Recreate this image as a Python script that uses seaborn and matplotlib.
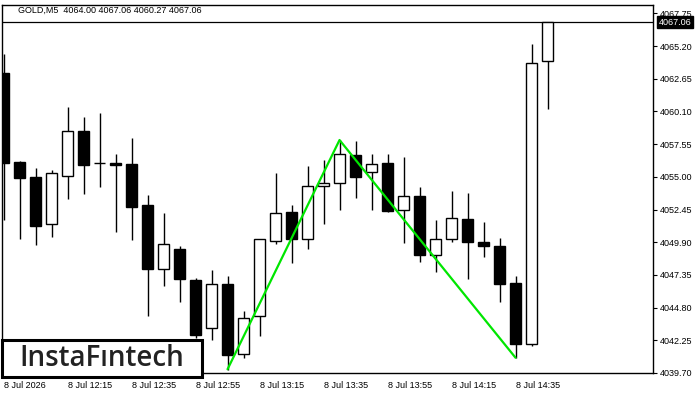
import matplotlib
matplotlib.use("Agg")
import matplotlib.pyplot as plt
import seaborn as sns
import pandas as pd
import numpy as np

# ---- data ----
times = ["11:55", "12:00", "12:05", "12:10", "12:15", "12:20", "12:25", "12:30",
         "12:35", "12:40", "12:45", "12:50", "12:55", "13:00", "13:05", "13:10",
         "13:15", "13:20", "13:25", "13:30", "13:35", "13:40", "13:45", "13:50",
         "13:55", "14:00", "14:05", "14:10", "14:15", "14:20", "14:25", "14:30",
         "14:35", "14:40", "14:45"]
opens = [4063.12, 4056.14, 4054.99, 4051.30, 4055.09, 4058.58, 4056.06, 4056.10,
         4056.00, 4052.80, 4047.84, 4049.35, 4046.95, 4043.19, 4046.62, 4041.16,
         4044.12, 4050.02, 4052.24, 4050.13, 4054.26, 4054.50, 4056.70, 4055.36,
         4056.06, 4052.39, 4053.48, 4048.88, 4050.13, 4051.71, 4049.92, 4049.61,
         4046.72, 4041.94, 4064.00]
highs = [4064.58, 4056.24, 4055.69, 4055.53, 4060.45, 4059.67, 4059.98, 4056.78,
         4058.03, 4053.58, 4052.18, 4049.61, 4047.09, 4047.73, 4047.27, 4044.54,
         4050.13, 4055.30, 4052.80, 4055.85, 4056.31, 4057.87, 4057.80, 4056.78,
         4056.78, 4056.55, 4054.21, 4051.63, 4053.90, 4053.74, 4051.48, 4050.23,
         4047.29, 4065.36, 4067.06]
lows = [4051.63, 4050.15, 4049.71, 4050.33, 4053.30, 4053.66, 4054.23, 4050.72,
        4050.07, 4044.15, 4046.49, 4045.26, 4042.43, 4042.27, 4039.93, 4040.85,
        4042.61, 4049.76, 4048.30, 4049.40, 4051.35, 4052.44, 4053.37, 4052.44,
        4052.28, 4049.86, 4048.38, 4047.60, 4049.94, 4047.06, 4048.77, 4045.26,
        4040.89, 4041.83, 4060.27]
closes = [4056.10, 4054.93, 4051.19, 4055.28, 4058.58, 4055.92, 4056.06, 4055.95,
          4052.67, 4047.84, 4049.76, 4047.06, 4042.64, 4046.62, 4041.08, 4043.97,
          4050.13, 4052.16, 4050.18, 4054.26, 4054.50, 4056.76, 4055.01, 4055.98,
          4052.36, 4053.48, 4048.93, 4050.15, 4051.77, 4049.94, 4049.63, 4046.67,
          4041.99, 4063.86, 4067.06]

pattern_idx = [14, 21, 32]
pattern_price = [4039.99, 4057.87, 4040.89]

y_ticks = [4039.70, 4042.25, 4044.80, 4047.35, 4049.90, 4052.45, 4055.00,
           4057.55, 4060.10, 4062.65, 4065.20, 4067.75]
x_tick_idx = [0, 4, 8, 12, 16, 20, 24, 28, 32]
x_tick_labels = ["8 Jul 2026", "8 Jul 12:15", "8 Jul 12:35", "8 Jul 12:55",
                 "8 Jul 13:15", "8 Jul 13:35", "8 Jul 13:55", "8 Jul 14:15",
                 "8 Jul 14:35"]
title = "GOLD,M5  4064.00 4067.06 4060.27 4067.06"
last_price = 4067.06

# ---- style ----
sns.set_style("white")
plt.rcParams["font.family"] = ["Liberation Sans", "DejaVu Sans"]

df = pd.DataFrame({"t": times, "o": opens, "h": highs, "l": lows, "c": closes})
df["i"] = np.arange(len(df))

fig = plt.figure(figsize=(7, 4), dpi=100)
ax = fig.add_axes([2 / 700, 27 / 400, 651 / 700, 368 / 400])

ymin, ymax = 4039.70, 4068.40
ax.set_xlim(-0.094, 40.59)
ax.set_ylim(ymin, ymax)

# wicks
ax.vlines(df["i"], df["l"], df["h"], color="black", linewidth=1.0, zorder=2)
# bodies
bw = 0.66
for _, r in df.iterrows():
    lo = min(r.o, r.c)
    hgt = abs(r.c - r.o)
    bull = r.c >= r.o
    if hgt < 0.03:
        ax.hlines(r.o, r.i - bw / 2, r.i + bw / 2, color="black", linewidth=1.0, zorder=3)
        continue
    ax.bar(r.i, hgt, bottom=lo, width=bw,
           color="white" if bull else "black", edgecolor="black",
           linewidth=1.0, zorder=3)

# last price line
ax.axhline(last_price, color="black", linewidth=0.9, zorder=1)

# pattern line
pat = pd.DataFrame({"i": pattern_idx, "p": pattern_price})
sns.lineplot(data=pat, x="i", y="p", ax=ax, color="#00e600", linewidth=1.6,
             zorder=5, sort=False, legend=False)
ax.set_xlabel("")
ax.set_ylabel("")

# axes / ticks
for s in ax.spines.values():
    s.set_color("black")
    s.set_linewidth(1.0)
ax.yaxis.tick_right()
ax.set_yticks(y_ticks)
ax.set_yticklabels([f"{v:.2f}" for v in y_ticks])
ax.set_xticks(x_tick_idx)
ax.set_xticklabels(x_tick_labels, ha="left")
ax.tick_params(axis="both", which="both", length=3, width=0.8, color="black",
               labelsize=6.5, labelcolor="black", direction="out", pad=2)
ax.tick_params(axis="x", pad=3)
ax.grid(False)

# title
fig.text(18 / 700, 1 - 10 / 400, title, fontsize=6.5, color="black",
         va="center", ha="left")

# last price box
ax.annotate(f"{last_price:.2f}", xy=(1.0, last_price),
            xycoords=("axes fraction", "data"), xytext=(4, 0),
            textcoords="offset points", fontsize=6.5, color="white",
            va="center", ha="left",
            bbox=dict(boxstyle="square,pad=0.15", fc="black", ec="black"),
            zorder=10, annotation_clip=False)

# logo box
from matplotlib.patches import Rectangle
rect = Rectangle((2 / 700, 1 - 377 / 400), 200 / 700, 37 / 400,
                 transform=fig.transFigure, facecolor="white",
                 edgecolor="black", linewidth=2.2, zorder=20)
fig.patches.append(rect)
fig.text(102 / 700, 1 - 359 / 400, "InstaFıntech", fontsize=20,
         family=["Open Sans", "DejaVu Sans"], fontweight="semibold",
         color="#222222", ha="center", va="center", zorder=21)

fig.savefig("out.png", dpi=100)
